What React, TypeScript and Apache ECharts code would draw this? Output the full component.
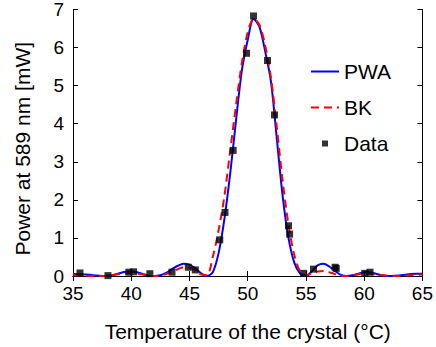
import React, { useEffect, useRef } from "react";
import * as echarts from "echarts";

const pwaX = [35,35.5,36,36.5,37,37.5,38,38.5,39,39.5,40,40.5,41,41.5,42,42.5,43,43.5,44,44.5,45,45.5,46,46.5,47,47.5,48,48.5,49,49.5,50,50.5,51,51.5,52,52.5,53,53.5,54,54.5,55,55.5,56,56.5,57,57.5,58,58.5,59,59.5,60,60.5,61,61.5,62,62.5,63,63.5,64,64.5,65];
const pwaY = [0.05,0.05,0.04,0.03,0.01,0.0,0.0,0.03,0.07,0.11,0.12,0.1,0.05,0.01,0.0,0.02,0.08,0.18,0.27,0.32,0.3,0.2,0.07,0.0,0.1,0.6,1.5,2.7,4.1,5.4,6.2,6.75,6.55,5.9,5.1,3.6,2.1,1.0,0.35,0.06,0.0,0.12,0.28,0.32,0.25,0.13,0.03,0.0,0.02,0.06,0.1,0.1,0.06,0.02,0.0,0.0,0.01,0.03,0.05,0.06,0.06];

const bkX = [35,36,37,38,39,40,41,42,43,44,44.5,45,45.5,46,46.5,47,47.5,48,48.5,49,49.5,50,50.5,51,51.5,52,52.5,53,53.5,54,54.5,55,55.5,56,56.5,57,57.5,58,58.5,59,60,61,62,63,64,65];
const bkY = [0.02,0.01,0.0,0.01,0.05,0.08,0.04,0.0,0.05,0.18,0.23,0.22,0.14,0.04,0.02,0.5,1.2,2.1,3.3,4.5,5.6,6.4,6.75,6.6,6.05,5.2,3.9,2.5,1.35,0.55,0.12,0.02,0.07,0.12,0.13,0.1,0.05,0.01,0.0,0.02,0.06,0.04,0.01,0.0,0.02,0.04];

const dataX = [35.6,38.0,39.8,40.2,41.6,43.5,44.9,45.5,47.6,48.05,48.75,49.9,50.5,51.7,52.3,53.5,53.6,54.8,55.65,57.5,57.6,60.05,60.5];
const dataY = [0.08,0.01,0.1,0.11,0.06,0.1,0.23,0.16,0.95,1.67,3.3,5.85,6.83,5.66,4.23,1.32,1.1,0.07,0.18,0.23,0.2,0.07,0.1];

const xTicks = [35, 40, 45, 50, 55, 60, 65];
const yTicks = [0, 1, 2, 3, 4, 5, 6, 7];

const FONT = "Liberation Sans";

export default function App() {
  const ref = useRef<HTMLDivElement>(null);
  useEffect(() => {
    if (!ref.current) return;
    const chart = echarts.init(ref.current, undefined, { renderer: "svg" });
    const axisCommon = {
      type: "value" as const,
      axisLine: { show: true, lineStyle: { color: "#000", width: 1 } },
      axisTick: { show: true, inside: true, length: 5, lineStyle: { color: "#000" } },
      splitLine: { show: false },
    };
    chart.setOption({
      animation: false,
      textStyle: { fontFamily: FONT },
      grid: { left: 73, right: 11, top: 8, bottom: 70, containLabel: false },
      xAxis: [
        {
          ...axisCommon,
          min: xTicks[0],
          max: xTicks[xTicks.length - 1],
          interval: 5,
          position: "bottom",
          axisLabel: { show: true, color: "#000", fontSize: 19, margin: 8, fontFamily: FONT },
          name: "Temperature of the crystal (°C)",
          nameLocation: "middle",
          nameGap: 45,
          nameTextStyle: { color: "#000", fontSize: 21, fontFamily: FONT },
        },
        {
          ...axisCommon,
          min: xTicks[0],
          max: xTicks[xTicks.length - 1],
          interval: 5,
          position: "top",
          axisLabel: { show: false },
        },
      ],
      yAxis: [
        {
          ...axisCommon,
          min: yTicks[0],
          max: yTicks[yTicks.length - 1],
          interval: 1,
          position: "left",
          axisLabel: { show: true, color: "#000", fontSize: 19, margin: 9, fontFamily: FONT },
          name: "Power at 589 nm [mW]",
          nameLocation: "middle",
          nameGap: 40,
          nameTextStyle: { color: "#000", fontSize: 21, fontFamily: FONT, padding: [0, 12, 0, 0] },
        },
        {
          ...axisCommon,
          min: yTicks[0],
          max: yTicks[yTicks.length - 1],
          interval: 1,
          position: "right",
          axisLabel: { show: false },
        },
      ],
      legend: {
        orient: "vertical",
        left: 310,
        top: 61,
        padding: 0,
        itemWidth: 28,
        itemHeight: 14,
        itemGap: 15,
        symbolKeepAspect: true,
        textStyle: { fontSize: 21, color: "#000", fontFamily: FONT },
        data: [
          { name: "PWA", itemStyle: { opacity: 0 } },
          { name: "BK", itemStyle: { opacity: 0 } },
          { name: "Data", icon: "path://M0,0M28,14M11,4h6v6h-6z" },
        ],
      },
      series: [
        {
          name: "PWA",
          type: "line",
          smooth: 0.3,
          showSymbol: false,
          symbol: "none",
          data: pwaX.map((x, i) => [x, pwaY[i]]),
          lineStyle: { color: "#0000ff", width: 2 },
          itemStyle: { color: "#0000ff" },
          z: 2,
        },
        {
          name: "BK",
          type: "line",
          smooth: 0.3,
          showSymbol: false,
          symbol: "none",
          data: bkX.map((x, i) => [x, bkY[i]]),
          lineStyle: { color: "#ff0000", width: 2, type: [8, 5] },
          itemStyle: { color: "#ff0000" },
          z: 3,
        },
        {
          name: "Data",
          type: "scatter",
          symbol: "rect",
          symbolSize: 7,
          data: dataX.map((x, i) => [x, dataY[i]]),
          itemStyle: { color: "#000" },
          z: 4,
        },
      ],
    });
    return () => chart.dispose();
  }, []);
  return <div ref={ref} style={{ width: 436, height: 347, position: "absolute", left: 0, top: 0 }} />;
}
